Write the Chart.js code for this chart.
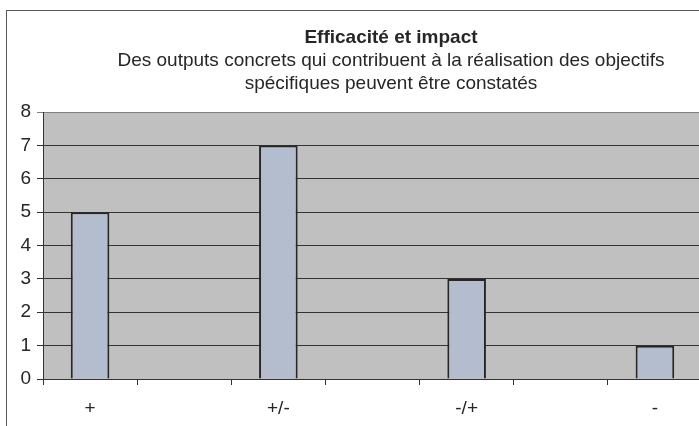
<!DOCTYPE html>
<html lang="fr">
<head>
<meta charset="utf-8">
<title>Efficacité et impact</title>
<script src="https://cdn.jsdelivr.net/npm/chart.js@4/dist/chart.umd.min.js"></script>
<style>
  html, body { margin: 0; padding: 0; background: #ffffff; overflow: hidden; }
  #wrap { width: 699px; height: 426px; overflow: hidden; position: relative; }
  canvas { display: block; }
</style>
</head>
<body>
<div id="wrap"><canvas id="chart" width="710" height="426"></canvas></div>
<script>
// Ratings (every other slot left empty, as on the original sheet)
const categories = ['+', '', '+/-', '', '-/+', '', '-'];
const counts = [5, null, 7, null, 3, null, 1];
const yTicks = [0, 1, 2, 3, 4, 5, 6, 7, 8];

const titleText = 'Efficacité et impact';
const subtitleLines = [
  'Des outputs concrets qui contribuent à la réalisation des objectifs',
  'spécifiques peuvent être constatés'
];

const FONT = '"Liberation Sans", Arial, sans-serif';

// Frame, plot background and headings
const decor = {
  id: 'decor',
  beforeDraw(chart) {
    const { ctx, chartArea: a } = chart;
    ctx.save();
    ctx.fillStyle = '#ffffff';
    ctx.fillRect(0, 0, chart.width, chart.height);
    ctx.strokeStyle = '#5a5a5a';
    ctx.lineWidth = 1;
    ctx.strokeRect(6.5, 10.5, 900, 600);
    ctx.fillStyle = '#c0c0c0';
    ctx.fillRect(a.left, a.top, a.right - a.left, a.bottom - a.top);
    ctx.restore();
  },
  afterDraw(chart) {
    const { ctx } = chart;
    const cx = 391;
    ctx.save();
    ctx.fillStyle = '#262626';
    ctx.textAlign = 'center';
    ctx.textBaseline = 'middle';
    ctx.font = 'bold 19px ' + FONT;
    ctx.fillText(titleText, cx, 38);
    ctx.font = '19px ' + FONT;
    subtitleLines.forEach((line, i) => ctx.fillText(line, cx, 61 + i * 23));
    ctx.restore();
  }
};

new Chart(document.getElementById('chart'), {
  type: 'bar',
  data: {
    labels: categories,
    datasets: [{
      data: counts,
      backgroundColor: '#b4bdcd',
      borderColor: '#262626',
      borderWidth: 2,
      borderSkipped: 'bottom',
      categoryPercentage: 1,
      barPercentage: 0.41
    }]
  },
  options: {
    responsive: false,
    animation: false,
    devicePixelRatio: 1,
    layout: { padding: { top: 112, right: 8, bottom: 0, left: 0 } },
    plugins: {
      legend: { display: false },
      tooltip: { enabled: false },
      title: { display: false }
    },
    scales: {
      x: {
        offset: true,
        grid: {
          offset: true,
          drawOnChartArea: false,
          drawTicks: true,
          tickLength: 6,
          color: '#333333'
        },
        border: { color: '#333333', width: 1 },
        ticks: {
          color: '#262626',
          font: { family: FONT, size: 19 },
          padding: 12,
          maxRotation: 0,
          autoSkip: false
        },
        afterFit(scale) { scale.height = 47; }
      },
      y: {
        min: 0,
        max: 8,
        afterBuildTicks(scale) { scale.ticks = yTicks.map(v => ({ value: v })); },
        grid: {
          color: ctx => (ctx.tick && ctx.tick.value === 8 ? '#808080' : '#333333'),
          lineWidth: 1,
          tickLength: 6,
          drawTicks: true
        },
        border: { color: '#333333', width: 1 },
        ticks: {
          color: '#262626',
          font: { family: FONT, size: 19 },
          padding: 6,
          stepSize: 1
        },
        afterFit(scale) { scale.width = 43; }
      }
    }
  },
  plugins: [decor]
});
</script>
</body>
</html>
